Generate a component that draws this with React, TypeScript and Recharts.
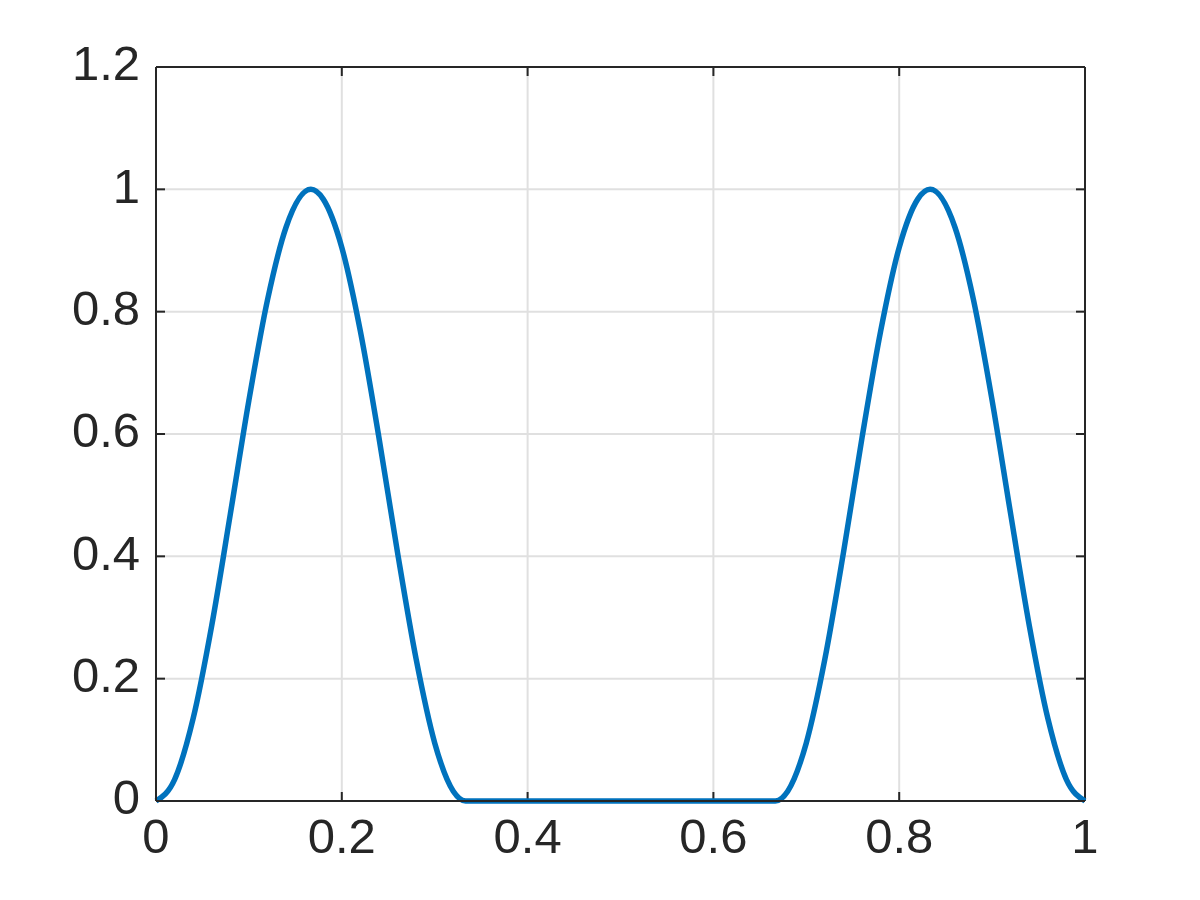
import { LineChart, Line, XAxis, YAxis, CartesianGrid, ReferenceLine } from 'recharts';

// values: two bumps, flat zero in the middle
const xs = [
  0, 0.02, 0.04, 0.06, 0.08, 0.1, 0.12, 0.14, 0.1667, 0.18, 0.2, 0.22, 0.24, 0.26, 0.28, 0.3, 0.32, 0.3333,
  0.5,
  0.6667, 0.68, 0.7, 0.72, 0.74, 0.76, 0.78, 0.8, 0.82, 0.8333, 0.86, 0.88, 0.9, 0.92, 0.94, 0.96, 0.98, 1,
];
const ys = [
  0, 0.035, 0.135, 0.287, 0.469, 0.655, 0.819, 0.938, 1, 0.984, 0.905, 0.768, 0.594, 0.406, 0.232, 0.095, 0.016, 0,
  0,
  0, 0.016, 0.095, 0.232, 0.406, 0.594, 0.768, 0.905, 0.984, 1, 0.938, 0.819, 0.655, 0.469, 0.287, 0.135, 0.035, 0,
];
const xTicks = [0, 0.2, 0.4, 0.6, 0.8, 1];
const yTicks = [0, 0.2, 0.4, 0.6, 0.8, 1, 1.2];

const data = xs.map((x, i) => ({ x, y: ys[i] }));

const X_MIN = 0;
const X_MAX = 1;
const Y_MIN = 0;
const Y_MAX = 1.2;
// inward tick length (~9px) in data units
const xTickLen = 0.0097;
const yTickLen = 0.0147;

const axisColor = '#262626';
const tickFont = { fontSize: 49, fill: axisColor, fontFamily: '"Liberation Sans", Arial, Helvetica, sans-serif' };

export default function App() {
  return (
    <div style={{ position: 'absolute', left: 0, top: 0, width: 1200, height: 900, background: '#fff' }}>
      <LineChart width={1200} height={900} data={data} margin={{ top: 67, right: 115, left: 56, bottom: 39 }}>
        <CartesianGrid stroke="#e0e0e0" strokeWidth={2} />
        <XAxis
          dataKey="x"
          type="number"
          domain={[X_MIN, X_MAX]}
          ticks={xTicks}
          height={60}
          tickFormatter={(v: number) => String(v)}
          tick={{ ...tickFont, dy: -2 }}
          tickSize={0}
          tickMargin={19}
          tickLine={false}
          axisLine={{ stroke: axisColor, strokeWidth: 2 }}
        />
        <YAxis
          type="number"
          domain={[Y_MIN, Y_MAX]}
          ticks={yTicks}
          width={100}
          tickFormatter={(v: number) => String(v)}
          tick={{ ...tickFont, dy: -4 }}
          tickSize={0}
          tickMargin={16}
          tickLine={false}
          axisLine={{ stroke: axisColor, strokeWidth: 2 }}
        />
        {/* box: top and right edges */}
        <ReferenceLine y={Y_MAX} stroke={axisColor} strokeWidth={2} />
        <ReferenceLine x={X_MAX} stroke={axisColor} strokeWidth={2} />
        {/* inward ticks on all four sides */}
        {xTicks.map((t) => (
          <ReferenceLine
            key={`xb${t}`}
            segment={[{ x: t, y: Y_MIN }, { x: t, y: Y_MIN + yTickLen }]}
            stroke={axisColor}
            strokeWidth={2}
          />
        ))}
        {xTicks.map((t) => (
          <ReferenceLine
            key={`xt${t}`}
            segment={[{ x: t, y: Y_MAX }, { x: t, y: Y_MAX - yTickLen }]}
            stroke={axisColor}
            strokeWidth={2}
          />
        ))}
        {yTicks.map((t) => (
          <ReferenceLine
            key={`yl${t}`}
            segment={[{ x: X_MIN, y: t }, { x: X_MIN + xTickLen, y: t }]}
            stroke={axisColor}
            strokeWidth={2}
          />
        ))}
        {yTicks.map((t) => (
          <ReferenceLine
            key={`yr${t}`}
            segment={[{ x: X_MAX, y: t }, { x: X_MAX - xTickLen, y: t }]}
            stroke={axisColor}
            strokeWidth={2}
          />
        ))}
        <Line
          type="monotone"
          dataKey="y"
          stroke="#0072BD"
          strokeWidth={5.5}
          dot={false}
          isAnimationActive={false}
        />
      </LineChart>
    </div>
  );
}
